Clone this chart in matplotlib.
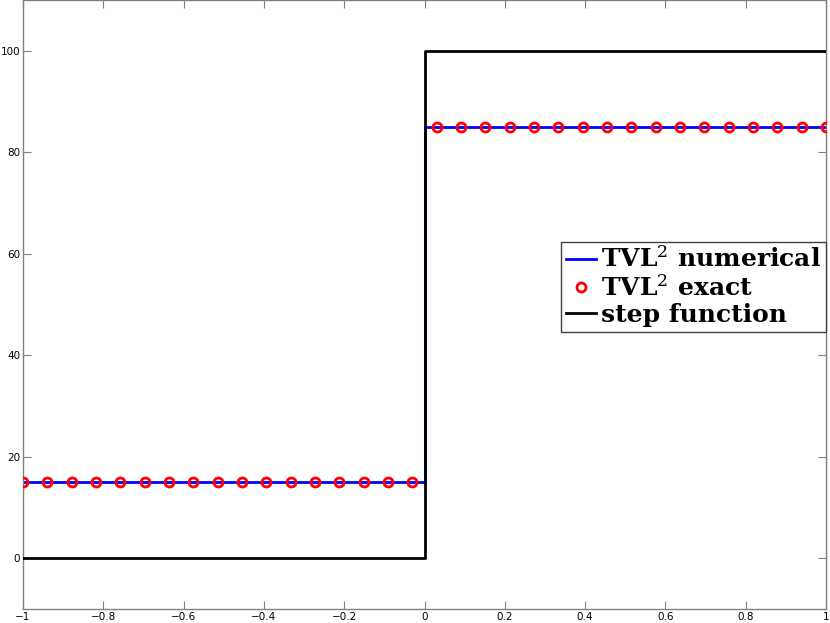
import matplotlib

matplotlib.use("Agg")
import matplotlib.pyplot as plt
import numpy as np

plt.rcParams["mathtext.fontset"] = "dejavuserif"

# numerical TVL^2 solution (piecewise constant with jump at 0)
num_x = [-1.0, 0.0, 0.0, 1.0]
num_y = [15.0, 15.0, 85.0, 85.0]

# exact TVL^2 solution sampled on 34 points
exact_x = np.linspace(-1.0, 1.0, 34)
exact_y = [15.0] * 17 + [85.0] * 17

# step function
step_x = [-1.0, 0.0, 0.0, 1.0]
step_y = [0.0, 0.0, 100.0, 100.0]

xticks = [-1, -0.8, -0.6, -0.4, -0.2, 0, 0.2, 0.4, 0.6, 0.8, 1]
yticks = [0, 20, 40, 60, 80, 100]

fig = plt.figure(figsize=(8.3, 6.23), dpi=100)
ax = fig.add_axes([23 / 830, 14 / 623, 803 / 830, 609 / 623])

ax.plot(num_x, num_y, color="#0000ff", linewidth=2.0,
        label=r"TVL$^2$ numerical", zorder=2)
ax.plot(exact_x, exact_y, linestyle="none", marker="o", markersize=6.5,
        markerfacecolor="none", markeredgecolor="#ff0000", markeredgewidth=2.0,
        label=r"TVL$^2$ exact", zorder=3)
ax.plot(step_x, step_y, color="black", linewidth=2.0,
        label="step function", zorder=4)

ax.set_xlim(-1, 1)
ax.set_ylim(-10, 110)
ax.set_xticks(xticks)
ax.set_yticks(yticks)
ax.set_xticklabels(["\u22121", "\u22120.8", "\u22120.6", "\u22120.4", "\u22120.2",
                    "0", "0.2", "0.4", "0.6", "0.8", "1"])
ax.tick_params(direction="in", top=True, right=True, length=6, width=0.8,
               color="#808080", labelsize=7.5, pad=2)
for sp in ax.spines.values():
    sp.set_color("#808080")
    sp.set_linewidth(1.0)

leg = ax.legend(loc="upper right", bbox_to_anchor=(1.0, 0.603), borderaxespad=0,
                frameon=True, fancybox=False, handlelength=1.2, handletextpad=0.2,
                borderpad=0.2, labelspacing=0.1,
                prop={"family": "DejaVu Serif", "weight": "bold", "size": 18})
leg.get_frame().set_edgecolor("#404040")
leg.get_frame().set_linewidth(1.0)
leg.get_frame().set_alpha(1.0)

fig.savefig("out.png", dpi=100)
